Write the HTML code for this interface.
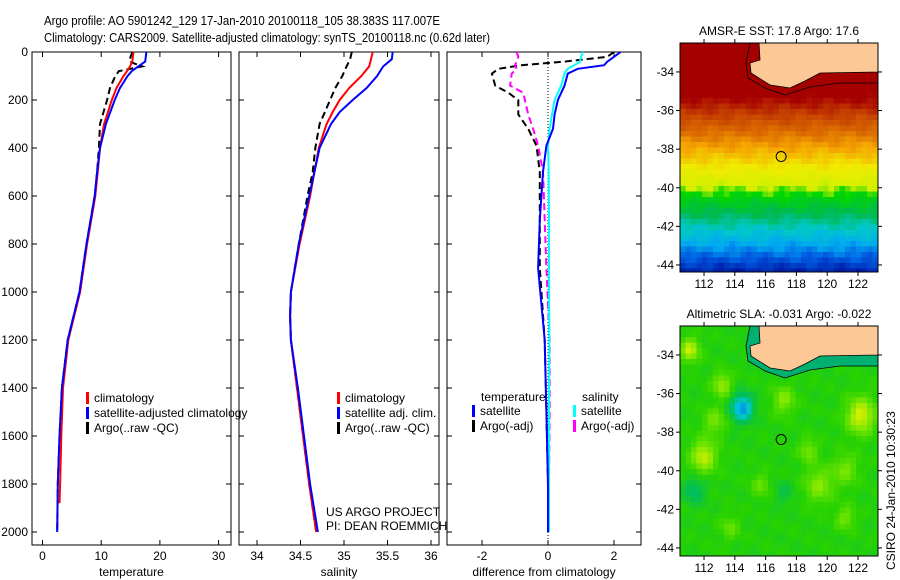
<!DOCTYPE html>
<html><head><meta charset="utf-8"><style>
body{margin:0;background:#fff;width:900px;height:580px;overflow:hidden}
svg{display:block;font-family:"Liberation Sans",sans-serif}
</style></head><body>
<svg id="c" width="900" height="580" xmlns="http://www.w3.org/2000/svg">
<text x="44" y="25" font-size="13" textLength="396" lengthAdjust="spacingAndGlyphs">Argo profile: AO 5901242_129 17-Jan-2010 20100118_105 38.383S 117.007E</text>
<text x="44" y="42" font-size="13" textLength="446" lengthAdjust="spacingAndGlyphs">Climatology: CARS2009. Satellite-adjusted climatology: synTS_20100118.nc (0.62d later)</text>
<g id="plots"></g>
<text x="0" y="0" font-size="12" transform="translate(895,570) rotate(-90)">CSIRO 24-Jan-2010 10:30:23</text>
</svg>
<script>
// ---- data ----
const tDepth=[0,20,40,60,80,100,150,200,300,400,500,600,800,1000,1200,1400,1600,1800,1880];
const tClim=[15.5,15.4,15.3,14.9,14.4,13.8,12.6,11.8,10.5,9.8,9.4,9.0,7.6,6.4,4.4,3.5,3.2,3.0,2.9];
const tSatDepth=[0,20,40,60,80,100,150,200,300,400,500,600,800,1000,1200,1400,1600,1800,2000];
const tSat=[17.7,17.6,17.5,16.3,15.2,14.5,13.2,12.3,10.8,9.8,9.3,8.9,7.5,6.3,4.3,3.3,2.9,2.6,2.5];
const tArgo=[15.3,15.0,14.8,17.0,13.0,12.4,11.5,11.0,9.8,9.6,9.3,8.9,7.5,6.3,4.3,3.3,2.9,2.6,2.5];
const sDepth=[0,30,60,100,150,200,250,300,400,500,600,800,1000,1100,1200,1400,1600,1800,2000];
const sClim=[35.33,35.31,35.29,35.2,35.06,34.95,34.87,34.8,34.71,34.66,34.61,34.49,34.39,34.38,34.39,34.46,34.53,34.6,34.68];
const sSat=[35.56,35.55,35.45,35.38,35.26,35.1,34.95,34.85,34.72,34.66,34.6,34.48,34.39,34.38,34.39,34.47,34.54,34.61,34.7];
const sArgo=[35.09,35.07,35.03,34.98,34.9,34.84,34.78,34.72,34.67,34.64,34.58,34.48,34.39,34.38,34.39,34.46,34.53,34.6,34.68];
const dDepth=[0,20,40,55,70,90,140,170,200,260,320,390,500,700,900,1200,1500,1800,2000];
const dTSat=[2.2,2.0,1.8,1.7,0.9,0.6,0.5,0.4,0.3,0.2,0.15,-0.05,-0.15,-0.25,-0.3,-0.1,-0.05,0,0];
const dSSat=[1.06,1.0,0.97,0.8,0.6,0.5,0.4,0.3,0.2,0.12,0.05,0.0,0.02,0.03,0.03,0.04,0.03,0.03,0.03];
const dTArgo=[2.0,1.8,0.5,-0.8,-1.5,-1.7,-1.6,-1.2,-0.9,-0.9,-0.6,-0.35,-0.25,-0.25,-0.25,-0.1,-0.05,0,0];
const dSArgo=[-0.95,-0.9,-0.95,-1.0,-0.95,-1.1,-1.15,-0.75,-0.7,-0.6,-0.45,-0.3,-0.15,-0.1,-0.05,0.05,0.05,0.03,0.02];
const depthTicks=[0,200,400,600,800,1000,1200,1400,1600,1800,2000];
const tTicks=[0,10,20,30];
const sTicks=[34,34.5,35,35.5,36];
const dTicks=[-2,0,2];
const latTicks=[-34,-36,-38,-40,-42,-44];
const lonTicks=[112,114,116,118,120,122];

const NS="http://www.w3.org/2000/svg";
const root=document.getElementById('plots');
function mk(tag,attrs,parent){const e=document.createElementNS(NS,tag);for(const k in attrs)e.setAttribute(k,attrs[k]);(parent||root).appendChild(e);return e;}
const yD=d=>52+0.24*d;

function panel(name,x0,x1,sx,ticks,fmt,label,leftLabels){
  const g=mk('g',{});
  
  
  const fr=mk('rect',{x:x0,y:52,width:x1-x0,height:493,fill:'none',stroke:'#000','stroke-width':1},g);
  
  
  depthTicks.forEach(d=>{
    mk('line',{x1:x0,x2:x0+5,y1:yD(d),y2:yD(d),stroke:'#000'},g);
    mk('line',{x1:x1-5,x2:x1,y1:yD(d),y2:yD(d),stroke:'#000'},g);
    if(leftLabels){const t=mk('text',{x:x0-4,y:yD(d)+4,'font-size':12,'text-anchor':'end'},g);t.textContent=d;
      
      }
  });
  ticks.forEach(v=>{
    const x=sx(v);
    mk('line',{x1:x,x2:x,y1:545,y2:540,stroke:'#000'},g);
    mk('line',{x1:x,x2:x,y1:52,y2:57,stroke:'#000'},g);
    const t=mk('text',{x:x,y:560,'font-size':12,'text-anchor':'middle'},g);t.textContent=fmt(v);
    
    
  });
  const t=mk('text',{x:(x0+x1)/2,y:576,'font-size':12,'text-anchor':'middle'},g);t.textContent=label;
  
  
  return g;
}
function line(g,xs,ds,sx,color,w,dash,name){
  const p=mk('polyline',{points:xs.map((v,i)=>sx(v).toFixed(1)+','+yD(ds[i]).toFixed(1)).join(' '),fill:'none',stroke:color,'stroke-width':w},g);
  if(dash)p.setAttribute('stroke-dasharray',dash);
  
  
}
function legend(g,x,y,items){
  items.forEach((it,i)=>{
    mk('rect',{x:x,y:y+i*15-10,width:3,height:12,fill:it[1]},g);
    const t=mk('text',{x:x+8,y:y+i*15,'font-size':12},g);t.textContent=it[0];
    
    
  });
}
// panel 1
const sT=v=>42.5+5.87*v;
const g1=panel('temperature-panel',32,231,sT,tTicks,v=>v,'temperature',true);
line(g1,tArgo,tSatDepth,sT,'#000',2,'7,4','argo-temperature-line');
line(g1,tClim,tDepth,sT,'#f00',2,null,'climatology-temperature-line');
line(g1,tSat,tSatDepth,sT,'#00f',2,null,'satellite-temperature-line');
legend(g1,86,402,[['climatology','#f00'],['satellite-adjusted climatology','#00f'],['Argo(..raw -QC)','#000']]);
// panel 2
const sS=v=>257+87*(v-34);
const g2=panel('salinity-panel',239,439,sS,sTicks,v=>v,'salinity',false);
line(g2,sArgo,sDepth,sS,'#000',2,'7,4','argo-salinity-line');
line(g2,sClim,sDepth,sS,'#f00',2,null,'climatology-salinity-line');
line(g2,sSat,sDepth,sS,'#00f',2,null,'satellite-salinity-line');
legend(g2,337,402,[['climatology','#f00'],['satellite adj. clim.','#00f'],['Argo(..raw -QC)','#000']]);
let t=mk('text',{x:326,y:516,'font-size':12},g2);t.textContent='US ARGO PROJECT';


t=mk('text',{x:326,y:530,'font-size':12},g2);t.textContent='PI: DEAN ROEMMICH';


// panel 3
const sDf=v=>548+33*v;
const g3=panel('difference-panel',447,641,sDf,dTicks,v=>v,'difference from climatology',false);
mk('line',{x1:548,x2:548,y1:52,y2:545,stroke:'#000','stroke-dasharray':'1,2'},g3);
line(g3,dTArgo,dDepth,sDf,'#000',2,'7,4','argo-temp-diff-line');
line(g3,dSArgo,dDepth,sDf,'#f0f',2,'7,4','argo-sal-diff-line');
line(g3,dSSat,dDepth,sDf,'#0ff',2,null,'satellite-sal-diff-line');
line(g3,dTSat,dDepth,sDf,'#00f',2,null,'satellite-temp-diff-line');
t=mk('text',{x:481,y:401,'font-size':12},g3);t.textContent='temperature';


t=mk('text',{x:582,y:401,'font-size':12},g3);t.textContent='salinity';


legend(g3,472,415,[['satellite','#00f'],['Argo(-adj)','#000']]);
legend(g3,573,415,[['satellite','#0ff'],['Argo(-adj)','#f0f']]);

// ---- maps ----
const mx0=680,mx1=878;
const lonX=l=>mx0+(l-110.44)*15.4;
function noise(i,j,s){return Math.sin(i*1.7+j*0.9+s)*0.5+Math.sin(i*0.6-j*1.3+s*2)*0.5;}
function lerpPal(pal,t){t=Math.max(0,Math.min(1,t));const f=t*(pal.length-1),i=Math.floor(f),r=f-i;const a=pal[i],b=pal[Math.min(i+1,pal.length-1)];return 'rgb('+a.map((v,k)=>Math.round(v+(b[k]-v)*r)).join(',')+')';}
// SST colours by latitude stops
const sstLat=[-44.4,-43.5,-42.8,-42,-41.2,-40.2,-39.8,-38.8,-37.8,-37,-36,-35.2,-32];
const sstCol=[[0,20,160],[0,90,225],[0,170,240],[0,200,200],[0,185,80],[0,215,0],[210,240,0],[240,235,0],[245,165,0],[220,110,0],[195,60,0],[165,0,0],[165,0,0]];
function sstColor(lat){
  for(let k=0;k<sstLat.length-1;k++){if(lat<=sstLat[k+1]){const r=Math.max(0,(lat-sstLat[k])/(sstLat[k+1]-sstLat[k]));const a=sstCol[k],b=sstCol[k+1];return 'rgb('+a.map((v,q)=>Math.round(v+(b[q]-v)*r)).join(',')+')';}}
  return 'rgb(165,0,0)';
}
function map(name,y0,y1,latTop,title,fn,shelf){
  const latY=l=>y0+(latTop-l)*19.3;
  const g=mk('g',{});
  
  
  const cs=5.5;
  for(let i=0;i*cs<mx1-mx0;i++)for(let j=0;j*cs<y1-y0;j++){
    const lon=110.44+(i*cs)/15.4,lat=latTop-(j*cs)/19.3;
    mk('rect',{x:mx0+i*cs,y:y0+j*cs,width:Math.min(cs,mx1-mx0-i*cs)+0.3,height:Math.min(cs,y1-y0-j*cs)+0.3,fill:fn(lon,lat,i,j)},g);
  }
  const sh=mk('path',{d:`M${mx0+70},${y0} L${mx0+66},${y0+20} L${mx0+68},${y0+35} L${mx0+85},${y0+45} L${mx0+105},${y0+52} L${mx0+130},${y0+44} L${mx0+160},${y0+40} L${mx1},${y0+40} L${mx1},${y0} Z`,fill:shelf,stroke:'#000','stroke-width':0.8},g);
  
  
  const land=mk('path',{d:`M${mx0+79},${y0} L${mx0+80},${y0+17} L${mx0+70},${y0+20} L${mx0+71},${y0+30} L${mx0+90},${y0+42} L${mx0+110},${y0+45} L${mx0+125},${y0+38} L${mx0+140},${y0+30} L${mx1},${y0+29} L${mx1},${y0} Z`,fill:'#fbc896',stroke:'#000','stroke-width':0.8},g);
  
  
  const c=mk('circle',{cx:lonX(117.007),cy:latY(-38.383),r:5,fill:'none',stroke:'#000'},g);
  
  
  mk('rect',{x:mx0,y:y0,width:mx1-mx0,height:y1-y0,fill:'none',stroke:'#000'},g);
  latTicks.forEach(l=>{const y=latY(l);mk('line',{x1:mx0-4,x2:mx0,y1:y,y2:y,stroke:'#000'},g);mk('line',{x1:mx1,x2:mx1+4,y1:y,y2:y,stroke:'#000'},g);
    const tt=mk('text',{x:mx0-6,y:y+4,'font-size':12,'text-anchor':'end'},g);tt.textContent=l;
    
    });
  lonTicks.forEach(l=>{const x=lonX(l);mk('line',{x1:x,x2:x,y1:y1,y2:y1+4,stroke:'#000'},g);mk('line',{x1:x,x2:x,y1:y0-4,y2:y0,stroke:'#000'},g);
    const tt=mk('text',{x:x,y:y1+16,'font-size':12,'text-anchor':'middle'},g);tt.textContent=l;
    
    });
  const tt=mk('text',{x:(mx0+mx1)/2,y:y0-8,'font-size':12,'text-anchor':'middle'},g);tt.textContent=title;
  
  
}
map('sst-map',43,272,-32.5,'AMSR-E SST: 17.8 Argo: 17.6',(lon,lat,i,j)=>sstColor(lat+noise(i,j,1)*0.25),'#a50000');
const blobs=[[114.3,-36.6,-1.2,0.7],[111.8,-39.1,0.9,0.8],[122,-37,1,0.9],[113,-35.4,0.7,0.6],[110.9,-33.6,0.9,0.6],[117,-36.2,0.6,0.7],[119.3,-40.6,0.6,0.9],[121,-39.8,0.5,0.8],[111.2,-40.9,-0.5,0.7],[112.5,-37.3,0.5,0.7],[118.6,-38.8,0.5,0.6],[121,-42.3,0.5,0.6],[113.5,-42.8,0.4,0.6],[115.5,-40.6,0.4,0.6],[117,-41,-0.3,0.6]];
const slaPal=[[0,120,230],[0,200,220],[0,190,90],[40,210,0],[120,230,0],[220,240,0],[250,200,0]];
map('sla-map',326,556,-32.5,'Altimetric SLA: -0.031 Argo: -0.022',(lon,lat,i,j)=>{
  let v=0.48+noise(i,j,3)*0.03;
  blobs.forEach(b=>{const d2=((lon-b[0])**2+(lat-b[1])**2)/(b[3]*b[3]);v+=b[2]*0.35*Math.exp(-d2);});
  return lerpPal(slaPal,v);},'#00b070');
</script>
</body></html>
